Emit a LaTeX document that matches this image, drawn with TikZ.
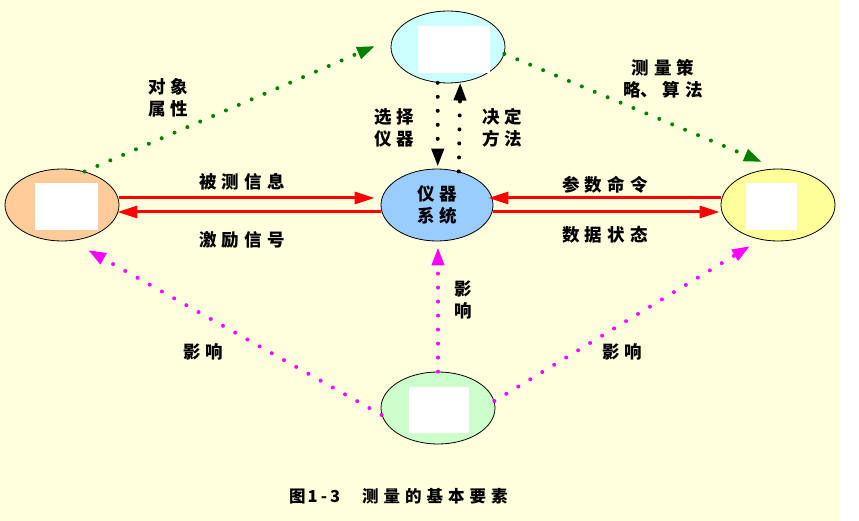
\documentclass[tikz,border=0pt]{standalone}
\usepackage{fontspec}
\newfontfamily\cjk{Noto Sans CJK SC}
\usetikzlibrary{shapes.geometric,arrows.meta}
\definecolor{bgbeige}{RGB}{255,255,221}
\definecolor{topfill}{RGB}{204,255,255}
\definecolor{midfill}{RGB}{153,204,255}
\definecolor{leftfill}{RGB}{255,204,153}
\definecolor{rightfill}{RGB}{255,255,153}
\definecolor{botfill}{RGB}{204,255,204}
\definecolor{dgreen}{RGB}{0,128,0}
\definecolor{pinkm}{RGB}{255,0,255}
\newcommand\gp{\hspace{5pt}}
\tikzset{
  oval/.style={ellipse, draw=black, line width=0.8pt, minimum width=114pt, minimum height=72pt, inner sep=0pt},
  wbox/.style={fill=white, draw=none, inner sep=0pt},
  redline/.style={draw=red, line width=3pt},
  redarrow/.style={redline, -{Triangle[length=20pt,width=12pt]}},
  dotline/.style={line width=4pt, line cap=round, dash pattern=on 0pt off 14pt, -{Triangle[length=18pt,width=12pt]}},
  lbl/.style={font=\cjk\bfseries\fontsize{17.5}{22}\selectfont, align=center, inner sep=0pt},
}
\begin{document}
\begin{tikzpicture}[x=1pt,y=-1pt]
\useasboundingbox (0,0) rectangle (859,521);
\fill[white] (0,0) rectangle (859,521);
\fill[bgbeige] (0,0) rectangle (840,521);

% ellipses
\node[oval, fill=topfill] (T) at (448,47) {};
\node[oval, fill=midfill, minimum width=112pt] (C) at (437,205) {};
\node[oval, fill=leftfill] (L) at (62,205) {};
\node[oval, fill=rightfill] (R) at (778,205) {};
\node[oval, fill=botfill] (B) at (438,408) {};

% white boxes
\node[wbox, minimum width=72pt, minimum height=47pt] (Tbox) at (454,49.5) {};
\node[wbox, minimum width=63pt, minimum height=47pt] (Lbox) at (66.5,206.5) {};
\node[wbox, minimum width=51pt, minimum height=47pt] (Rbox) at (771.5,206.5) {};
\node[wbox, minimum width=60pt, minimum height=46pt] (Bbox) at (439,410) {};

% center label
\node[lbl] at (C) {仪\gp 器\\系\gp 统};

% red lines
\draw[redarrow, shorten >=6pt] ([yshift=7pt]L.east) -- ([yshift=7pt]C.west);
\draw[redarrow, shorten >=-2pt] ([yshift=-7pt]C.west) -- ([yshift=-7pt]L.east);
\draw[redarrow, shorten >=-5pt] ([yshift=7pt]R.west) -- ([yshift=7pt]C.east);
\draw[redarrow, shorten >=1pt] ([yshift=-7pt]C.east) -- ([yshift=-7pt]R.west);

% free ends
\coordinate (g1) at (375,46);
\coordinate (g2) at (762,162);
\coordinate (p1) at (88,250);
\coordinate (p2) at (750,246);

% black dotted
\draw[dotline, black, shorten >=2pt] (T.-106) -- (T.-106 |- C.north);
\draw[dotline, black] (C.57) -- (T.-71);

% green dotted
\draw[dotline, dgreen] (L.56) -- (g1);
\draw[dotline, dgreen] (T.-7) -- (g2);

% pink dotted
\draw[dotline, pinkm] (B.187) -- (p1);
\draw[dotline, pinkm] (B.7) -- (p2);
\draw[dotline, pinkm, shorten >=6pt] (B.north) -- (B.north |- C.south);

% labels
\node[lbl] (t1) at (168,98) {对\gp 象\\属\gp 性};
\node[lbl] (t2) at (394,127.5) {选\gp 择\\仪\gp 器};
\node[lbl] (t3) at (502,127.5) {决\gp 定\\方\gp 法};
\node[lbl] (t4) at (663,78.5) {测\gp 量\gp 策\\略、\gp 算\gp 法};
\node[lbl] (t5) at (242,182) {被\gp 测\gp 信\gp 息};
\node[lbl] (t6) at (242,240) {激\gp 励\gp 信\gp 号};
\node[lbl] (t7) at (605,185) {参\gp 数\gp 命\gp 令};
\node[lbl] (t8) at (605,235) {数\gp 据\gp 状\gp 态};
\node[lbl] (t9) at (463,300.5) {影\\响};
\node[lbl] (t10) at (203,352) {影\gp 响};
\node[lbl] (t11) at (622,352) {影\gp 响};
\node[lbl, anchor=west, font=\cjk\bfseries\fontsize{16.5}{20}\selectfont] (cap) at (289,496) {图\hspace{2pt}1\hspace{3pt}-\hspace{3pt}3\hspace{22pt}测\gp 量\gp 的\gp 基\gp 本\gp 要\gp 素};
\end{tikzpicture}
\end{document}
